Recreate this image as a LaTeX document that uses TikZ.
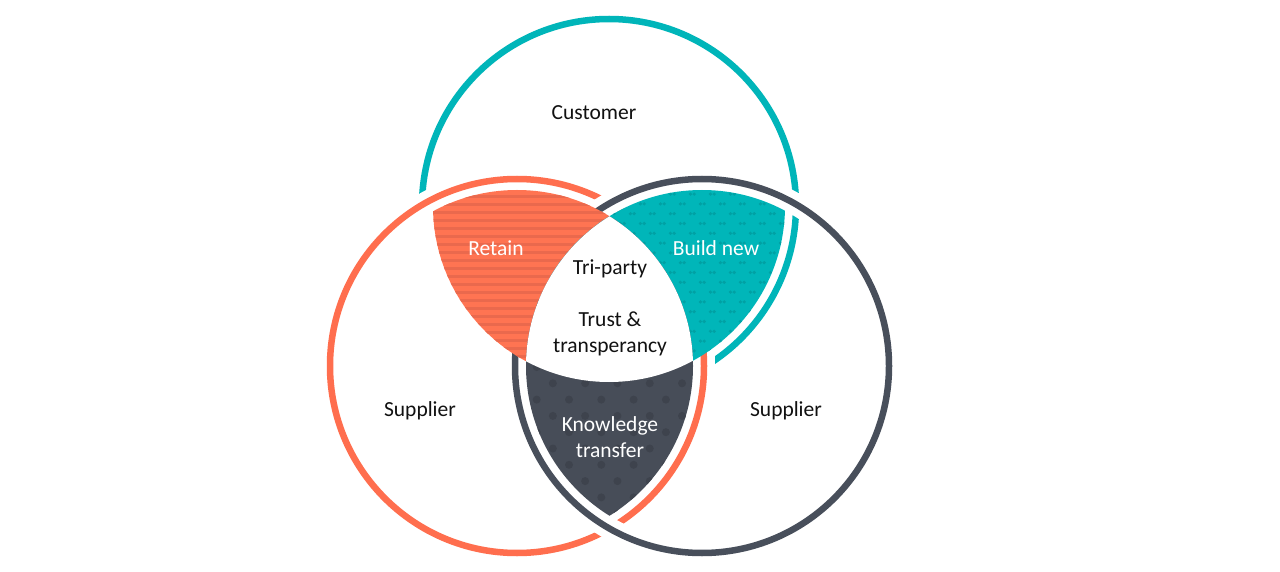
\documentclass[tikz,border=0pt]{standalone}
\usepackage{fontspec}
\setmainfont{Carlito}
\definecolor{tealc}{HTML}{00B5B9}
\definecolor{orangec}{HTML}{FF6E4E}
\definecolor{darkc}{HTML}{484F5B}
\definecolor{retainA}{HTML}{FF7452}
\definecolor{retainB}{HTML}{EA694D}
\definecolor{bnA}{HTML}{00B6B9}
\definecolor{bnB}{HTML}{00A1A4}
\definecolor{ktA}{HTML}{474D58}
\definecolor{ktB}{HTML}{3E434D}
\definecolor{txt}{HTML}{111111}
\begin{document}
\begin{tikzpicture}[x=1pt,y=-1pt,
  ring/.style={line width=6.5pt},
  halo/.style={white,line width=22pt},
  lbl/.style={font=\fontsize{21.5}{26}\selectfont, text=txt, align=center, inner sep=0pt},
  wlbl/.style={lbl, text=white}]
\useasboundingbox[fill=white] (0,0) rectangle (1280,572);
\coordinate (T) at (609,206);
\coordinate (O) at (517,366);
\coordinate (D) at (702,366);
% circles
\draw[ring, tealc] (T) circle (187pt);
\draw[halo, fill=white] (O) circle (187pt);
\draw[ring, orangec] (O) circle (187pt);
\draw[halo] (D) circle (187pt);
\draw[ring, darkc] (D) circle (187pt);
% Retain: orange and customer
\begin{scope}
  \clip (O) circle (176pt);
  \clip (T) circle (176pt);
  \fill[retainA] (400,150) rectangle (700,420);
  \foreach \k in {0,...,28} {\fill[retainB] (400,{190.3+8*\k}) rectangle ++(300,-3.5);}
\end{scope}
% Build new: customer and right supplier
\begin{scope}
  \clip (T) circle (176pt);
  \clip (D) circle (176pt);
  \fill[bnA] (550,150) rectangle (850,420);
  \foreach \r in {0,...,22} {
    \foreach \c in {0,...,13} {
      \pgfmathsetmacro\xx{562.3+20*\c+10*mod(\r,2)}
      \pgfmathsetmacro\yy{184.3+9.8*\r}
      \fill[bnB] ({\xx-1.9},\yy) circle (1.8pt) ({\xx+1.9},\yy) circle (1.8pt);
    }
  }
\end{scope}
% Knowledge transfer: both suppliers
\begin{scope}
  \clip (O) circle (176pt);
  \clip (D) circle (176pt);
  \fill[ktA] (480,200) rectangle (740,560);
  \foreach \r in {0,...,22} {
    \foreach \c in {0,...,8} {
      \pgfmathsetmacro\xx{472.1+32.3*\c+16.15*mod(\r,2)}
      \pgfmathsetmacro\yy{204.0+16.3*\r}
      \fill[ktB] (\xx,\yy) circle (4pt);
    }
  }
\end{scope}
% centre
\begin{scope}
  \clip (O) circle (176pt);
  \clip (T) circle (176pt);
  \fill[white] (D) circle (176pt);
\end{scope}
% labels
\node[lbl] (cust) at (594,113) {Customer};
\node[lbl] (supl) at (420,411) {Supplier};
\node[lbl] (supr) at (786,411) {Supplier};
\node[wlbl] (ret) at (496,248) {Retain};
\node[wlbl] (bn) at (716,248) {Build new};
\node[lbl] (tri) at (610,269) {Tri-party};
\node[lbl] (trust) at (610,334) {Trust \&\\transperancy};
\node[wlbl] (kt) at (610,437) {Knowledge\\transfer};
\end{tikzpicture}
\end{document}
